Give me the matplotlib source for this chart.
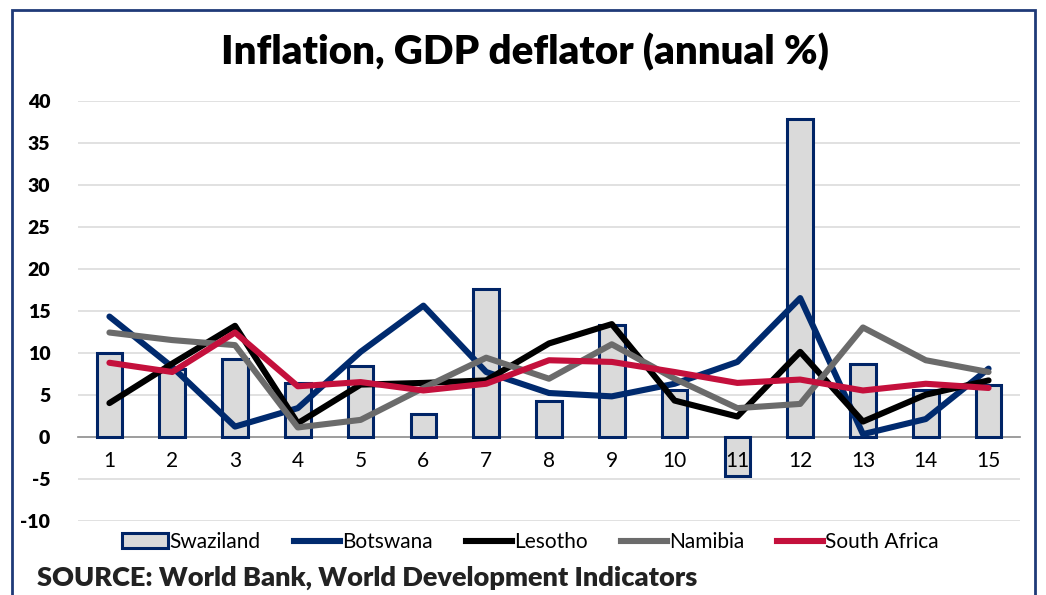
import numpy as np
import matplotlib
matplotlib.use('Agg')
import matplotlib.pyplot as plt
from matplotlib.patches import Rectangle, Patch
from matplotlib.lines import Line2D

# data
periods = [str(i) for i in range(1, 16)]
swaziland = [10.0, 8.0, 9.2, 6.4, 8.4, 2.7, 17.6, 4.2, 13.3, 5.6, -4.7, 37.8, 8.7, 5.5, 6.2]
botswana = [14.3, 8.3, 1.2, 3.4, 10.1, 15.6, 7.7, 5.2, 4.8, 6.3, 8.9, 16.5, 0.3, 2.1, 8.1]
lesotho = [4.0, 8.7, 13.2, 1.6, 6.2, 6.4, 6.7, 11.1, 13.4, 4.3, 2.4, 10.1, 1.8, 5.0, 6.7]
namibia = [12.4, 11.5, 10.9, 1.1, 2.0, 5.8, 9.4, 6.9, 11.0, 6.9, 3.4, 3.9, 13.0, 9.1, 7.7]
south_africa = [8.8, 7.7, 12.4, 6.0, 6.5, 5.5, 6.3, 9.1, 8.9, 7.7, 6.4, 6.8, 5.5, 6.3, 5.8]
yticks = list(range(-10, 41, 5))

navy = '#002466'
col_bot = '#002a6e'
col_les = '#000000'
col_nam = '#6b6b6b'
col_sa = '#c4103c'

plt.rcParams['font.family'] = ['Lato', 'DejaVu Sans']

fig = plt.figure(figsize=(10.46, 5.95), dpi=100)
ax = fig.add_axes([0.0746, 0.1249, 0.9005, 0.7059])

# gridlines behind everything
for v in yticks:
    if v != 0:
        ax.axhline(v, color='#dcdcdc', lw=1.2, zorder=0)

x = np.arange(len(periods))
ax.bar(x, swaziland, width=0.41, color='#dadada', edgecolor=navy, linewidth=2.2, zorder=2)
lw = 4.4
ax.plot(x, botswana, color=col_bot, lw=lw, zorder=3, solid_capstyle='round')
ax.plot(x, lesotho, color=col_les, lw=lw, zorder=3, solid_capstyle='round')
ax.plot(x, namibia, color=col_nam, lw=lw, zorder=3, solid_capstyle='round')
ax.plot(x, south_africa, color=col_sa, lw=lw, zorder=4, solid_capstyle='round')

ax.set_xlim(-0.5, len(periods) - 0.5)
ax.set_ylim(-10, 40)
ax.set_yticks(yticks)
ax.set_yticklabels([str(v) for v in yticks], fontsize=14, fontweight='heavy')

for s in ['top', 'right', 'left']:
    ax.spines[s].set_visible(False)
ax.spines['bottom'].set_position(('data', 0))
ax.spines['bottom'].set_color('#8c8c8c')
ax.spines['bottom'].set_linewidth(1.2)
ax.spines['bottom'].set_zorder(1)
ax.set_xticks(x)
ax.set_xticklabels(periods, fontsize=15)
ax.tick_params(axis='x', length=0, pad=10)
ax.tick_params(axis='y', length=0, pad=20)
# category labels sit on top of the negative bar
ax.xaxis.set_zorder(6)

fig.text(0.502, 0.912, 'Inflation, GDP deflator (annual %)', ha='center', va='center',
         fontsize=29, fontweight='heavy')

handles = [
    Patch(facecolor='#dadada', edgecolor=navy, linewidth=2.2, label='Swaziland'),
    Line2D([0], [0], color=col_bot, lw=lw, label='Botswana'),
    Line2D([0], [0], color=col_les, lw=lw, label='Lesotho'),
    Line2D([0], [0], color=col_nam, lw=lw, label='Namibia'),
    Line2D([0], [0], color=col_sa, lw=lw, label='South Africa'),
]
fig.legend(handles=handles, loc='center', bbox_to_anchor=(0.507, 0.089), ncol=5, frameon=False,
           fontsize=15, handlelength=2.2, handletextpad=0.1, columnspacing=1.6)

fig.text(0.035, 0.028, 'SOURCE: World Bank, World Development Indicators', ha='left', va='center',
         fontsize=19.5, fontweight='heavy', color='#222222')

# outer frame
fig.patches.append(Rectangle((12 / 1046, -0.05), (1035 - 12) / 1046, 1.05 - 10 / 595,
                             transform=fig.transFigure, fill=False, edgecolor='#1f3a78', lw=2))

fig.savefig('out.png', dpi=100)
